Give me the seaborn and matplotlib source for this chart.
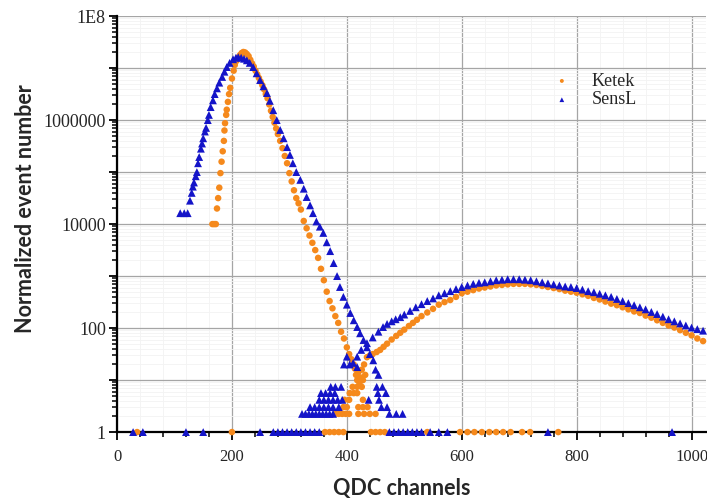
import numpy as np
import pandas as pd
import matplotlib
matplotlib.use('Agg')
import matplotlib.pyplot as plt
import seaborn as sns
from matplotlib.ticker import LogLocator, MultipleLocator, NullFormatter, FuncFormatter

# Values (log10 of normalized event number)

# ── Ketek (orange) ────────────────────────────────────────────────────────────
KETEK_PEAK_CH = [166, 169, 172, 174, 176, 178, 180, 182, 184, 186,
                 187, 188, 190, 191, 193, 195, 197, 200, 203, 205,
                 208, 211, 214, 217, 220, 223, 226, 229, 232, 235,
                 238, 241, 244, 247, 250, 253, 256, 259, 262, 265,
                 268, 271, 274, 277, 280, 284, 288, 292, 296, 300,
                 304, 308, 312, 316, 320, 325, 330, 335, 340, 345,
                 350, 355, 360, 365, 370, 375, 380, 385, 390, 395,
                 400, 404, 408, 412]
KETEK_PEAK_LOG = [4.0, 4.0, 4.0, 4.3, 4.5, 4.7, 4.98, 5.2, 5.4, 5.6,
                  5.8, 5.94, 6.1, 6.2, 6.35, 6.5, 6.62, 6.8, 6.95, 7.06,
                  7.14, 7.2, 7.25, 7.29, 7.31, 7.3, 7.27, 7.23, 7.16, 7.09,
                  7.03, 6.95, 6.88, 6.81, 6.74, 6.67, 6.59, 6.5, 6.42, 6.3,
                  6.18, 6.06, 5.95, 5.84, 5.73, 5.6, 5.46, 5.31, 5.17, 4.98,
                  4.82, 4.65, 4.5, 4.4, 4.28, 4.06, 3.92, 3.78, 3.64, 3.5,
                  3.35, 3.14, 2.92, 2.7, 2.52, 2.38, 2.23, 2.1, 1.93, 1.8,
                  1.63, 1.5, 1.4, 1.3]

KETEK_HUMP_CH = [435, 440, 445, 452, 458, 464, 470, 478, 486, 493,
                 500, 508, 515, 522, 530, 540, 550, 560, 570, 580,
                 590, 600, 610, 620, 630, 640, 650, 660, 670, 680,
                 690, 700, 710, 720, 730, 740, 750, 760, 770, 780,
                 790, 800, 810, 820, 830, 840, 850, 860, 870, 880,
                 890, 900, 910, 920, 930, 940, 950, 960, 970, 980,
                 990, 1000, 1010, 1020]
KETEK_HUMP_LOG = [1.44, 1.47, 1.5, 1.54, 1.58, 1.64, 1.7, 1.78, 1.85, 1.91,
                  1.97, 2.04, 2.1, 2.16, 2.23, 2.3, 2.37, 2.45, 2.5, 2.54,
                  2.6, 2.67, 2.7, 2.73, 2.76, 2.78, 2.8, 2.82, 2.83, 2.84,
                  2.85, 2.85, 2.85, 2.84, 2.83, 2.81, 2.79, 2.77, 2.75, 2.72,
                  2.7, 2.68, 2.65, 2.62, 2.58, 2.55, 2.51, 2.47, 2.44, 2.4,
                  2.36, 2.32, 2.29, 2.24, 2.2, 2.15, 2.1, 2.05, 2.01, 1.96,
                  1.91, 1.86, 1.8, 1.75]

# low-count bins in the valley
KETEK_LOW_CH = [414, 416, 418, 420, 422, 424, 426, 428, 430, 432,
                380, 386, 392, 398, 404, 420, 430, 440, 450,
                394, 400, 420, 428, 436,
                396, 404, 428,
                405, 412, 418,
                410, 418, 426]
KETEK_LOW_LOG = [1.22, 1.1, 1.0, 1.15, 0.95, 1.05, 1.2, 1.0, 1.3, 1.1,
                 0.35, 0.35, 0.35, 0.35, 0.35, 0.35, 0.35, 0.35, 0.35,
                 0.48, 0.48, 0.48, 0.48, 0.48,
                 0.62, 0.62, 0.62,
                 0.75, 0.75, 0.75,
                 0.87, 0.87, 0.87]

# single entries sitting on the bottom axis (value 1)
KETEK_ONE_CH = [35, 200, 362, 370, 378, 386, 394, 442, 450, 458, 466,
                540, 597, 610, 622, 635, 648, 660, 672, 685, 705, 719, 768]

# ── SensL (blue) ──────────────────────────────────────────────────────────────
SENSL_PEAK_CH = [110, 117, 123, 127, 130, 132, 134, 137, 139, 141,
                 143, 146, 148, 150, 153, 155, 158, 160, 163, 167,
                 170, 174, 178, 183, 187, 191, 196, 202, 207, 211,
                 216, 221, 226, 231, 237, 243, 249, 255, 261, 266,
                 272, 278, 284, 290, 296, 301, 306, 312, 319, 325,
                 330, 336, 341, 347, 353, 359, 365, 371, 377, 383,
                 388, 394, 400, 406, 412, 418, 423, 429, 435, 440,
                 446, 450, 455]
SENSL_PEAK_LOG = [4.21, 4.21, 4.21, 4.45, 4.6, 4.72, 4.8, 4.92, 5.0, 5.17,
                  5.29, 5.45, 5.55, 5.65, 5.78, 5.85, 6.0, 6.1, 6.25, 6.38,
                  6.5, 6.61, 6.72, 6.83, 6.93, 7.02, 7.1, 7.17, 7.2, 7.21,
                  7.2, 7.18, 7.15, 7.1, 7.02, 6.9, 6.77, 6.65, 6.52, 6.37,
                  6.19, 6.0, 5.81, 5.65, 5.48, 5.33, 5.17, 5.0, 4.85, 4.68,
                  4.52, 4.36, 4.21, 4.05, 3.95, 3.83, 3.65, 3.48, 3.25, 3.0,
                  2.79, 2.6, 2.45, 2.29, 2.15, 2.02, 1.9, 1.77, 1.63, 1.5,
                  1.38, 1.2, 1.1]

SENSL_HUMP_CH = [405, 411, 418, 425, 435, 445, 455, 463, 470, 478,
                 485, 493, 500, 510, 520, 530, 540, 550, 560, 570,
                 580, 590, 600, 610, 620, 630, 640, 650, 660, 670,
                 680, 690, 700, 710, 720, 730, 740, 750, 760, 770,
                 780, 790, 800, 810, 820, 830, 840, 850, 860, 870,
                 880, 890, 900, 910, 920, 930, 940, 950, 960, 970,
                 980, 990, 1000, 1010, 1020]
SENSL_HUMP_LOG = [1.3, 1.33, 1.45, 1.58, 1.71, 1.82, 1.93, 2.02, 2.08, 2.13,
                  2.17, 2.21, 2.26, 2.33, 2.4, 2.46, 2.52, 2.57, 2.63, 2.67,
                  2.71, 2.75, 2.79, 2.82, 2.85, 2.87, 2.88, 2.9, 2.92, 2.93,
                  2.94, 2.94, 2.94, 2.93, 2.92, 2.9, 2.88, 2.86, 2.84, 2.82,
                  2.8, 2.79, 2.77, 2.74, 2.71, 2.69, 2.66, 2.63, 2.6, 2.56,
                  2.52, 2.48, 2.44, 2.4, 2.36, 2.31, 2.27, 2.22, 2.17, 2.13,
                  2.09, 2.05, 2.01, 1.98, 1.95]

SENSL_LOW_CH = [322, 328, 334, 340, 346, 352, 358, 364, 370, 376, 474, 486, 497,
                336, 344, 352, 360, 368, 376, 386, 460, 470,
                352, 360, 368, 376, 384, 392, 438, 456,
                355, 363, 371, 379, 454, 468,
                372, 380, 390, 452, 462,
                395, 400, 418]
SENSL_LOW_LOG = [0.35] * 13 + [0.48] * 9 + [0.62] * 8 + [0.75] * 6 + [0.87] * 5 + \
                [1.3, 1.45, 1.25]

SENSL_ONE_CH = [28, 45, 120, 150, 249, 272, 280, 288, 296, 304, 312, 320, 328,
                336, 344, 352, 474, 482, 490, 498, 506, 514, 522, 530, 545,
                560, 575, 750, 966]

COLORS = {'Ketek': '#f5891c', 'SensL': '#1414c8'}
MARKERS = {'Ketek': 'o', 'SensL': '^'}
SIZES = {'Ketek': 22, 'SensL': 32}


def build_frame():
    parts = []
    series = {
        'Ketek': [(KETEK_PEAK_CH, KETEK_PEAK_LOG), (KETEK_HUMP_CH, KETEK_HUMP_LOG),
                  (KETEK_LOW_CH, KETEK_LOW_LOG), (KETEK_ONE_CH, [0.0] * len(KETEK_ONE_CH))],
        'SensL': [(SENSL_PEAK_CH, SENSL_PEAK_LOG), (SENSL_HUMP_CH, SENSL_HUMP_LOG),
                  (SENSL_LOW_CH, SENSL_LOW_LOG), (SENSL_ONE_CH, [0.0] * len(SENSL_ONE_CH))],
    }
    for name, chunks in series.items():
        for ch, lg in chunks:
            parts.append(pd.DataFrame({'channel': ch,
                                       'events': 10.0 ** np.asarray(lg, dtype=float),
                                       'detector': name}))
    return pd.concat(parts, ignore_index=True)


df = build_frame()

sns.set_theme(style='white')
plt.rcParams['font.family'] = ['Liberation Serif', 'DejaVu Serif']

fig = plt.figure(figsize=(7.07, 5.03), dpi=100)
ax = fig.add_axes([0.1655, 0.141, 0.833, 0.827])

for name in ['Ketek', 'SensL']:
    sub = df[df['detector'] == name]
    sns.scatterplot(data=sub, x='channel', y='events', ax=ax,
                    color=COLORS[name], marker=MARKERS[name], s=SIZES[name],
                    linewidth=0, edgecolor='none', label=name,
                    clip_on=False, zorder=3)

ax.set_yscale('log')
ax.set_ylim(1, 1e8)
ax.set_xlim(0, 1025)

ax.yaxis.set_major_locator(LogLocator(base=10, numticks=20))
ax.yaxis.set_minor_locator(LogLocator(base=10, subs=np.arange(2, 10), numticks=20))
ax.yaxis.set_minor_formatter(NullFormatter())
labels = {0: '1', 2: '100', 4: '10000', 6: '1000000', 8: '1E8'}
ax.yaxis.set_major_formatter(FuncFormatter(
    lambda v, p: labels.get(int(round(np.log10(v))), '')))
ax.xaxis.set_major_locator(MultipleLocator(200))
ax.xaxis.set_minor_locator(MultipleLocator(40))

ax.set_axisbelow(True)
ax.grid(which='minor', color='#f3f3f3', linewidth=0.6)
ax.grid(which='major', color='#a5a5a5', linewidth=0.9)

for side in ['top', 'right']:
    ax.spines[side].set_visible(False)
for side in ['left', 'bottom']:
    ax.spines[side].set_color('black')
    ax.spines[side].set_linewidth(1.6)
    ax.spines[side].set_zorder(2)

ax.tick_params(which='both', direction='out', color='black', left=True, bottom=True)
ax.tick_params(which='major', length=6, width=1.3)
ax.tick_params(which='minor', length=3.5, width=1.1)
ax.tick_params(axis='x', which='major', labelsize=12, pad=6)
ax.tick_params(axis='y', which='major', labelsize=13, pad=2)

ax.set_xlabel('QDC channels', fontfamily='Lato', fontweight='bold', fontsize=15.5)
ax.set_ylabel('Normalized event number', fontfamily='Lato', fontweight='bold',
              fontsize=15.5)
ax.xaxis.set_label_coords(0.484, -0.111)
ax.yaxis.set_label_coords(-0.1375, 0.538)

ax.legend(loc='upper left', bbox_to_anchor=(0.740, 0.864), frameon=False,
          fontsize=13, handlelength=1.0, handletextpad=1.16, labelspacing=0.1,
          borderpad=0, borderaxespad=0, markerscale=0.6)

fig.savefig('out.png', dpi=100)
